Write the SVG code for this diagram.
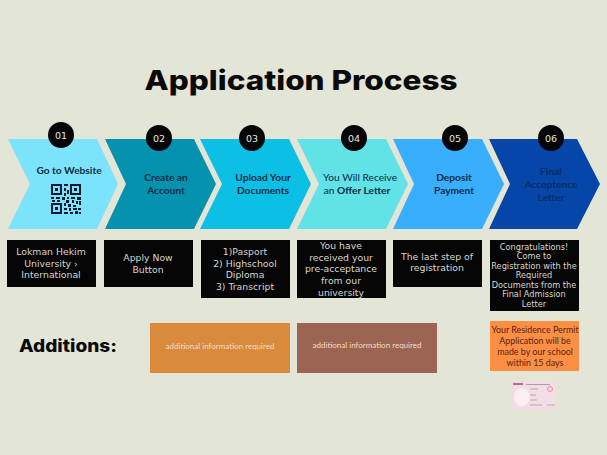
<svg xmlns="http://www.w3.org/2000/svg" width="607" height="455" viewBox="0 0 607 455">
<style>
text{text-anchor:middle}
.step{font-family:"Lato","Liberation Sans",sans-serif;font-size:10.2px;font-weight:700;fill:#0b2b45}
.num{font-family:"DejaVu Sans",sans-serif;font-size:9.5px;fill:#e8e8e0}
.note{font-family:"DejaVu Sans",sans-serif;font-size:9.3px;fill:#d8d8cf}
.small{font-size:8.2px}
.info{font-family:"Lato","Liberation Sans",sans-serif;font-size:8px;fill:#f3dfc5}
.badge{fill:#050505}
.card{fill:#050505}
</style>
<rect width="607" height="455" fill="#e3e5d6"/>
<text x="301" y="90" textLength="313" lengthAdjust="spacingAndGlyphs" style="font-family:Inter,'Liberation Sans',sans-serif;font-size:27.5px;font-weight:800;fill:#0a0a0a">Application Process</text>

<g id="step1">
<polygon points="8,139 97,139 118,184 97,229 8,229 30,184" fill="#7be3fb"/>
<circle class="badge" cx="61" cy="135" r="13"/><text class="num" x="61" y="138.500">01</text>
<text class="step" x="69" y="174">Go to Website</text>
<path fill="#0d1a2e" d="M51 184h11v11h-11zM53 186v7h7v-7zM55 188h3v3h-3zM70 184h11v11h-11zM72 186v7h7v-7zM74 188h3v3h-3zM51 203h11v11h-11zM53 205v7h7v-7zM55 207h3v3h-3zM64 184h4v2h-4zM64 188h2v3h-2zM67 190h2v4h-2zM64 193h2v3h-2zM51 197h3v2h-3zM56 197h4v2h-4zM62 197h3v3h-3zM67 197h2v2h-2zM71 197h4v2h-4zM77 197h4v3h-4zM52 200h3v2h-3zM57 200h3v2h-3zM66 200h3v3h-3zM72 200h2v3h-2zM76 201h2v3h-2zM79 201h2v4h-2zM64 203h2v3h-2zM68 204h3v3h-3zM73 205h3v2h-3zM64 208h3v2h-3zM69 208h2v3h-2zM73 208h4v2h-4zM78 208h3v2h-3zM64 212h4v2h-4zM70 212h3v2h-3zM75 211h3v3h-3zM79 212h2v2h-2z"/>
</g>
<g id="step2">
<polygon points="105,139 194,139 216,184 194,229 105,229 126,184" fill="#0592ae"/>
<circle class="badge" cx="159" cy="138" r="13"/><text class="num" x="159" y="141.500">02</text>
<text class="step" x="166" y="181">Create an</text><text class="step" x="166" y="194">Account</text>
</g>
<g id="step3">
<polygon points="200,139 289,139 311,184 289,229 200,229 222,184" fill="#0cbfe4"/>
<circle class="badge" cx="252" cy="138" r="13"/><text class="num" x="252" y="141.500">03</text>
<text class="step" x="263" y="181">Upload Your</text><text class="step" x="263" y="194">Documents</text>
</g>
<g id="step4">
<polygon points="297,139 386,139 408,184 386,229 297,229 319,184" fill="#60e2e6"/>
<circle class="badge" cx="354" cy="138" r="13"/><text class="num" x="354" y="141.500">04</text>
<text class="step" x="360" y="181" style="font-weight:400">You Will Receive</text>
<text class="step" x="357" y="194" style="font-weight:400">an <tspan font-weight="700">Offer Letter</tspan></text>
</g>
<g id="step5">
<polygon points="393,139 482,139 504,184 482,229 393,229 414,184" fill="#38aefc"/>
<circle class="badge" cx="455" cy="138" r="13"/><text class="num" x="455" y="141.500">05</text>
<text class="step" x="454" y="181">Deposit</text><text class="step" x="454" y="194">Payment</text>
</g>
<g id="step6">
<polygon points="489,139 577,139 600,184 577,229 489,229 510,184" fill="#0546a8"/>
<circle class="badge" cx="551" cy="138" r="13"/><text class="num" x="551" y="141.500">06</text>
<text class="step" x="551" y="175" style="fill:#082a66">Final</text><text class="step" x="551" y="188" style="fill:#082a66">Acceptence</text><text class="step" x="551" y="201" style="fill:#082a66">Letter</text>
</g>

<g id="note1"><rect class="card" x="7" y="240" width="89" height="47"/>
<text class="note" x="51" y="255">Lokman Hekim</text><text class="note" x="51" y="267">University &#8250;</text><text class="note" x="51" y="278">International</text></g>
<g id="note2"><rect class="card" x="104" y="240" width="89" height="47"/>
<text class="note" x="148" y="261">Apply Now</text><text class="note" x="148" y="273">Button</text></g>
<g id="note3"><rect class="card" x="201" y="240" width="89" height="58"/>
<text class="note" x="245" y="255">1)Pasport</text><text class="note" x="245" y="267">2) Highschool</text><text class="note" x="245" y="278">Diploma</text><text class="note" x="245" y="290">3) Transcript</text></g>
<g id="note4"><rect class="card" x="297" y="240" width="89" height="58"/>
<text class="note" x="341" y="249">You have</text><text class="note" x="341" y="261">received your</text><text class="note" x="341" y="272">pre-acceptance</text><text class="note" x="341" y="284">from our</text><text class="note" x="341" y="296">university</text></g>
<g id="note5"><rect class="card" x="393" y="240" width="89" height="47"/>
<text class="note" x="437" y="260">The last step of</text><text class="note" x="437" y="271">registration</text></g>
<g id="note6"><rect class="card" x="490" y="240" width="89" height="71"/>
<text class="note small" x="534" y="250">Congratulations!</text><text class="note small" x="534" y="259">Come to</text><text class="note small" x="534" y="269">Registration with the</text><text class="note small" x="534" y="278">Required</text><text class="note small" x="534" y="288">Documents from the</text><text class="note small" x="534" y="297">Final Admission</text><text class="note small" x="534" y="307">Letter</text></g>

<g id="additions"><text x="68" y="352" textLength="98" lengthAdjust="spacingAndGlyphs" style="font-family:Inter,'Liberation Sans',sans-serif;font-size:17px;font-weight:800;fill:#0a0a0a">Additions:</text></g>
<g id="info1"><rect x="150" y="323" width="140" height="50" fill="#d98a3c"/><text class="info" x="220" y="349">additional information required</text></g>
<g id="info2"><rect x="297" y="323" width="140" height="50" fill="#9c6453"/><text class="info" x="367" y="348">additional information required</text></g>
<g id="info3"><rect x="490" y="321" width="89" height="50" fill="#fb8f44"/>
<g style="font-family:Lato,'Liberation Sans',sans-serif;font-size:8.9px;fill:#5e1c10"><text x="535" y="333">Your Residence Permit</text><text x="535" y="344">Application will be</text><text x="535" y="355">made by our school</text><text x="535" y="365.500">within 15 days</text></g></g>
<g id="permit-card">
<rect x="511" y="381" width="45" height="29" rx="2" fill="#f3dde4"/>
<ellipse cx="522" cy="397" rx="8" ry="9" fill="#fbeff2"/>
<rect x="513" y="383" width="10" height="2" fill="#c46a7e"/>
<rect x="526" y="384" width="24" height="1" fill="#a9a0a8"/>
<path d="M530 389h8M530 395h6M530 400h7M530 405h12M547 405h8" stroke="#b5a9b2" stroke-width="1" fill="none"/>
<circle cx="550" cy="389" r="2.500" fill="none" stroke="#e98a9b" stroke-width="1"/>
</g>
</svg>
